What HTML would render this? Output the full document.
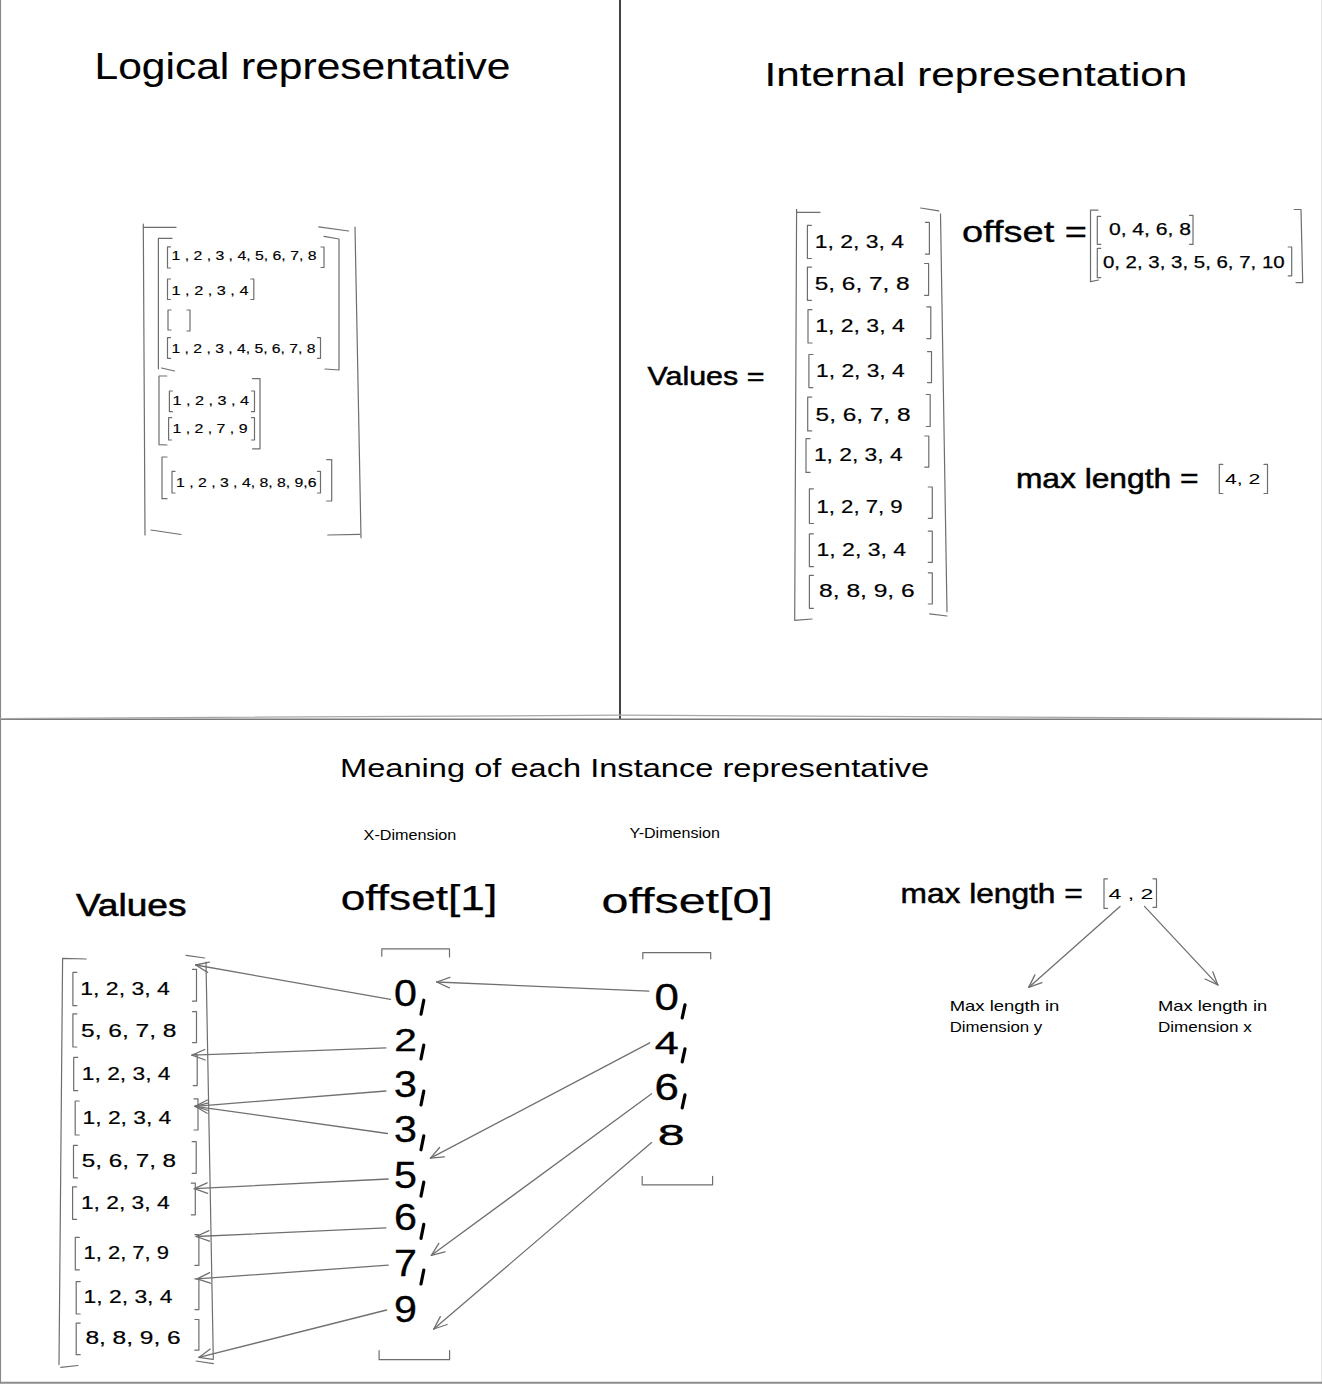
<!DOCTYPE html>
<html><head><meta charset="utf-8"><style>
html,body{margin:0;padding:0;background:#fff;width:1322px;height:1386px;overflow:hidden}
svg{display:block}
text{font-family:"Liberation Sans",sans-serif}
</style></head><body>
<svg width="1322" height="1386" viewBox="0 0 1322 1386">
<rect width="1322" height="1386" fill="#fff"/>
<path d="M0.5 0.0 L0.5 1383.0" stroke="#8a8a8a" stroke-width="1.2" fill="none" stroke-linecap="round" stroke-linejoin="round"/>
<path d="M1321.5 0.0 L1321.5 1383.0" stroke="#e6e6e6" stroke-width="1" fill="none" stroke-linecap="round" stroke-linejoin="round"/>
<path d="M620.0 0.0 L620.0 719.0" stroke="#444" stroke-width="2" fill="none" stroke-linecap="round" stroke-linejoin="round"/>
<path d="M0.0 719.3 L1322.0 719.3" stroke="#7a7a7a" stroke-width="1.6" fill="none" stroke-linecap="round" stroke-linejoin="round"/>
<path d="M0.0 718.6 L620.0 715.2" stroke="#a8a8a8" stroke-width="1.3" fill="none" stroke-linecap="round" stroke-linejoin="round"/>
<path d="M620.0 715.2 L1322.0 718.6" stroke="#a8a8a8" stroke-width="1.3" fill="none" stroke-linecap="round" stroke-linejoin="round"/>
<path d="M0.0 1382.7 L1322.0 1382.7" stroke="#8c8c8c" stroke-width="2" fill="none" stroke-linecap="round" stroke-linejoin="round"/>
<text x="94.5" y="79.0" font-size="37" font-weight="normal" fill="#000" textLength="416.0" lengthAdjust="spacingAndGlyphs" stroke="#000" stroke-width="0.1">Logical representative</text>
<path d="M176 227.4 L143.3 227.4" stroke="#6e6e6e" stroke-width="1.2" fill="none" stroke-linecap="round" stroke-linejoin="round"/>
<path d="M143.3 224 L145 535" stroke="#6e6e6e" stroke-width="1.2" fill="none" stroke-linecap="round" stroke-linejoin="round"/>
<path d="M151 530 L181 534.5" stroke="#6e6e6e" stroke-width="1.2" fill="none" stroke-linecap="round" stroke-linejoin="round"/>
<path d="M318.7 226.8 L348.6 231" stroke="#6e6e6e" stroke-width="1.2" fill="none" stroke-linecap="round" stroke-linejoin="round"/>
<path d="M355 227 L361 537.7" stroke="#6e6e6e" stroke-width="1.2" fill="none" stroke-linecap="round" stroke-linejoin="round"/>
<path d="M327.8 535 L360 534.3" stroke="#6e6e6e" stroke-width="1.2" fill="none" stroke-linecap="round" stroke-linejoin="round"/>
<path d="M172 238.4 L158.4 238.4 L158.4 368.8" stroke="#6e6e6e" stroke-width="1.2" fill="none" stroke-linecap="round" stroke-linejoin="round"/>
<path d="M161.5 368 L174.5 371" stroke="#6e6e6e" stroke-width="1.2" fill="none" stroke-linecap="round" stroke-linejoin="round"/>
<path d="M324 236.4 L339 239 L339 370 L325 369" stroke="#6e6e6e" stroke-width="1.2" fill="none" stroke-linecap="round" stroke-linejoin="round"/>
<path d="M166.8 376 L159 376 L159 444.7 L167 445" stroke="#6e6e6e" stroke-width="1.2" fill="none" stroke-linecap="round" stroke-linejoin="round"/>
<path d="M252.5 378.7 L260 378.7 L260 448.8 L252.5 448.8" stroke="#6e6e6e" stroke-width="1.2" fill="none" stroke-linecap="round" stroke-linejoin="round"/>
<path d="M167.0 457.0 L162.0 457.0 L162.0 498.7 L167.0 498.7" stroke="#6e6e6e" stroke-width="1.2" fill="none" stroke-linecap="round" stroke-linejoin="round"/>
<path d="M326.7 459.7 L331.7 459.7 L331.7 501.0 L326.7 501.0" stroke="#6e6e6e" stroke-width="1.2" fill="none" stroke-linecap="round" stroke-linejoin="round"/>
<path d="M170.5 246.8 L167.5 246.8 L167.5 268.0 L170.5 268.0" stroke="#6e6e6e" stroke-width="1.2" fill="none" stroke-linecap="round" stroke-linejoin="round"/>
<path d="M321.0 247.0 L324.0 247.0 L324.0 267.5 L321.0 267.5" stroke="#6e6e6e" stroke-width="1.2" fill="none" stroke-linecap="round" stroke-linejoin="round"/>
<text x="171.5" y="260.3" font-size="12.5" font-weight="normal" fill="#000" textLength="145.0" lengthAdjust="spacingAndGlyphs" stroke="#000" stroke-width="0.15">1 , 2 , 3 , 4, 5, 6, 7, 8</text>
<path d="M170.5 279.0 L167.5 279.0 L167.5 299.5 L170.5 299.5" stroke="#6e6e6e" stroke-width="1.2" fill="none" stroke-linecap="round" stroke-linejoin="round"/>
<path d="M250.8 279.0 L253.8 279.0 L253.8 299.5 L250.8 299.5" stroke="#6e6e6e" stroke-width="1.2" fill="none" stroke-linecap="round" stroke-linejoin="round"/>
<text x="171.5" y="294.8" font-size="12.5" font-weight="normal" fill="#000" textLength="77.0" lengthAdjust="spacingAndGlyphs" stroke="#000" stroke-width="0.15">1 , 2 , 3 , 4</text>
<path d="M171.0 310.0 L168.0 310.0 L168.0 330.0 L171.0 330.0" stroke="#6e6e6e" stroke-width="1.2" fill="none" stroke-linecap="round" stroke-linejoin="round"/>
<path d="M187.0 310.0 L190.0 310.0 L190.0 331.0 L187.0 331.0" stroke="#6e6e6e" stroke-width="1.2" fill="none" stroke-linecap="round" stroke-linejoin="round"/>
<path d="M170.5 337.7 L167.5 337.7 L167.5 358.4 L170.5 358.4" stroke="#6e6e6e" stroke-width="1.2" fill="none" stroke-linecap="round" stroke-linejoin="round"/>
<path d="M317.5 337.7 L320.5 337.7 L320.5 358.4 L317.5 358.4" stroke="#6e6e6e" stroke-width="1.2" fill="none" stroke-linecap="round" stroke-linejoin="round"/>
<text x="171.5" y="353.0" font-size="12.5" font-weight="normal" fill="#000" textLength="144.0" lengthAdjust="spacingAndGlyphs" stroke="#000" stroke-width="0.15">1 , 2 , 3 , 4, 5, 6, 7, 8</text>
<path d="M172.4 391.0 L169.4 391.0 L169.4 411.7 L172.4 411.7" stroke="#6e6e6e" stroke-width="1.2" fill="none" stroke-linecap="round" stroke-linejoin="round"/>
<path d="M251.5 391.0 L254.5 391.0 L254.5 411.7 L251.5 411.7" stroke="#6e6e6e" stroke-width="1.2" fill="none" stroke-linecap="round" stroke-linejoin="round"/>
<text x="172.5" y="405.0" font-size="12.5" font-weight="normal" fill="#000" textLength="76.6" lengthAdjust="spacingAndGlyphs" stroke="#000" stroke-width="0.15">1 , 2 , 3 , 4</text>
<path d="M171.6 417.7 L168.6 417.7 L168.6 440.0 L171.6 440.0" stroke="#6e6e6e" stroke-width="1.2" fill="none" stroke-linecap="round" stroke-linejoin="round"/>
<path d="M251.5 417.7 L254.5 417.7 L254.5 440.0 L251.5 440.0" stroke="#6e6e6e" stroke-width="1.2" fill="none" stroke-linecap="round" stroke-linejoin="round"/>
<text x="172.5" y="433.0" font-size="12.5" font-weight="normal" fill="#000" textLength="75.0" lengthAdjust="spacingAndGlyphs" stroke="#000" stroke-width="0.15">1 , 2 , 7 , 9</text>
<path d="M175.0 471.4 L172.0 471.4 L172.0 493.0 L175.0 493.0" stroke="#6e6e6e" stroke-width="1.2" fill="none" stroke-linecap="round" stroke-linejoin="round"/>
<path d="M317.5 471.4 L320.5 471.4 L320.5 493.0 L317.5 493.0" stroke="#6e6e6e" stroke-width="1.2" fill="none" stroke-linecap="round" stroke-linejoin="round"/>
<text x="176.1" y="487.0" font-size="12.5" font-weight="normal" fill="#000" textLength="140.4" lengthAdjust="spacingAndGlyphs" stroke="#000" stroke-width="0.15">1 , 2 , 3 , 4, 8, 8, 9,6</text>
<text x="764.6" y="86.0" font-size="34" font-weight="normal" fill="#000" textLength="422.7" lengthAdjust="spacingAndGlyphs" stroke="#000" stroke-width="0.1">Internal representation</text>
<text x="647.5" y="385.0" font-size="25" font-weight="normal" fill="#000" textLength="116.9" lengthAdjust="spacingAndGlyphs" stroke="#000" stroke-width="0.5">Values =</text>
<path d="M820 212.3 L796.6 212.3" stroke="#6e6e6e" stroke-width="1.2" fill="none" stroke-linecap="round" stroke-linejoin="round"/>
<path d="M796.6 209.4 L794.7 619.5" stroke="#6e6e6e" stroke-width="1.2" fill="none" stroke-linecap="round" stroke-linejoin="round"/>
<path d="M794.7 620.4 L812 619" stroke="#6e6e6e" stroke-width="1.2" fill="none" stroke-linecap="round" stroke-linejoin="round"/>
<path d="M920.7 208 L938.8 210.9" stroke="#6e6e6e" stroke-width="1.2" fill="none" stroke-linecap="round" stroke-linejoin="round"/>
<path d="M940.5 213.8 L947 611.7" stroke="#6e6e6e" stroke-width="1.2" fill="none" stroke-linecap="round" stroke-linejoin="round"/>
<path d="M929.7 613.8 L947 616" stroke="#6e6e6e" stroke-width="1.2" fill="none" stroke-linecap="round" stroke-linejoin="round"/>
<path d="M811.4 225.3 L807.4 225.3 L807.4 258.5 L811.4 258.5" stroke="#6e6e6e" stroke-width="1.2" fill="none" stroke-linecap="round" stroke-linejoin="round"/>
<path d="M925.4 222.4 L929.4 222.4 L929.4 254.2 L925.4 254.2" stroke="#6e6e6e" stroke-width="1.2" fill="none" stroke-linecap="round" stroke-linejoin="round"/>
<text x="814.7" y="248.4" font-size="18" font-weight="normal" fill="#000" textLength="89.4" lengthAdjust="spacingAndGlyphs" stroke="#000" stroke-width="0.2">1, 2, 3, 4</text>
<path d="M811.4 267.2 L807.4 267.2 L807.4 300.3 L811.4 300.3" stroke="#6e6e6e" stroke-width="1.2" fill="none" stroke-linecap="round" stroke-linejoin="round"/>
<path d="M924.6 263.5 L928.6 263.5 L928.6 295.3 L924.6 295.3" stroke="#6e6e6e" stroke-width="1.2" fill="none" stroke-linecap="round" stroke-linejoin="round"/>
<text x="814.7" y="289.5" font-size="18" font-weight="normal" fill="#000" textLength="95.0" lengthAdjust="spacingAndGlyphs" stroke="#000" stroke-width="0.2">5, 6, 7, 8</text>
<path d="M812.0 309.7 L808.0 309.7 L808.0 343.0 L812.0 343.0" stroke="#6e6e6e" stroke-width="1.2" fill="none" stroke-linecap="round" stroke-linejoin="round"/>
<path d="M926.8 306.8 L930.8 306.8 L930.8 338.6 L926.8 338.6" stroke="#6e6e6e" stroke-width="1.2" fill="none" stroke-linecap="round" stroke-linejoin="round"/>
<text x="815.3" y="332.0" font-size="18" font-weight="normal" fill="#000" textLength="89.4" lengthAdjust="spacingAndGlyphs" stroke="#000" stroke-width="0.2">1, 2, 3, 4</text>
<path d="M812.9 354.5 L808.9 354.5 L808.9 387.6 L812.9 387.6" stroke="#6e6e6e" stroke-width="1.2" fill="none" stroke-linecap="round" stroke-linejoin="round"/>
<path d="M927.5 351.6 L931.5 351.6 L931.5 382.6 L927.5 382.6" stroke="#6e6e6e" stroke-width="1.2" fill="none" stroke-linecap="round" stroke-linejoin="round"/>
<text x="816.1" y="376.8" font-size="18" font-weight="normal" fill="#000" textLength="88.6" lengthAdjust="spacingAndGlyphs" stroke="#000" stroke-width="0.2">1, 2, 3, 4</text>
<path d="M811.7 397.1 L807.7 397.1 L807.7 430.9 L811.7 430.9" stroke="#6e6e6e" stroke-width="1.2" fill="none" stroke-linecap="round" stroke-linejoin="round"/>
<path d="M926.2 394.5 L930.2 394.5 L930.2 426.5 L926.2 426.5" stroke="#6e6e6e" stroke-width="1.2" fill="none" stroke-linecap="round" stroke-linejoin="round"/>
<text x="815.6" y="420.5" font-size="18" font-weight="normal" fill="#000" textLength="94.9" lengthAdjust="spacingAndGlyphs" stroke="#000" stroke-width="0.2">5, 6, 7, 8</text>
<path d="M810.0 438.7 L806.0 438.7 L806.0 472.4 L810.0 472.4" stroke="#6e6e6e" stroke-width="1.2" fill="none" stroke-linecap="round" stroke-linejoin="round"/>
<path d="M924.8 436.0 L928.8 436.0 L928.8 467.2 L924.8 467.2" stroke="#6e6e6e" stroke-width="1.2" fill="none" stroke-linecap="round" stroke-linejoin="round"/>
<text x="813.9" y="461.2" font-size="18" font-weight="normal" fill="#000" textLength="88.8" lengthAdjust="spacingAndGlyphs" stroke="#000" stroke-width="0.2">1, 2, 3, 4</text>
<path d="M813.4 488.8 L809.4 488.8 L809.4 523.5 L813.4 523.5" stroke="#6e6e6e" stroke-width="1.2" fill="none" stroke-linecap="round" stroke-linejoin="round"/>
<path d="M928.3 487.0 L932.3 487.0 L932.3 518.3 L928.3 518.3" stroke="#6e6e6e" stroke-width="1.2" fill="none" stroke-linecap="round" stroke-linejoin="round"/>
<text x="816.5" y="513.0" font-size="18" font-weight="normal" fill="#000" textLength="86.2" lengthAdjust="spacingAndGlyphs" stroke="#000" stroke-width="0.2">1, 2, 7, 9</text>
<path d="M813.4 533.8 L809.4 533.8 L809.4 566.7 L813.4 566.7" stroke="#6e6e6e" stroke-width="1.2" fill="none" stroke-linecap="round" stroke-linejoin="round"/>
<path d="M928.3 531.2 L932.3 531.2 L932.3 562.4 L928.3 562.4" stroke="#6e6e6e" stroke-width="1.2" fill="none" stroke-linecap="round" stroke-linejoin="round"/>
<text x="816.5" y="556.3" font-size="18" font-weight="normal" fill="#000" textLength="89.7" lengthAdjust="spacingAndGlyphs" stroke="#000" stroke-width="0.2">1, 2, 3, 4</text>
<path d="M813.4 575.4 L809.4 575.4 L809.4 608.3 L813.4 608.3" stroke="#6e6e6e" stroke-width="1.2" fill="none" stroke-linecap="round" stroke-linejoin="round"/>
<path d="M928.3 572.8 L932.3 572.8 L932.3 604.0 L928.3 604.0" stroke="#6e6e6e" stroke-width="1.2" fill="none" stroke-linecap="round" stroke-linejoin="round"/>
<text x="819.1" y="597.0" font-size="18" font-weight="normal" fill="#000" textLength="95.6" lengthAdjust="spacingAndGlyphs" stroke="#000" stroke-width="0.2">8, 8, 9, 6</text>
<text x="962.0" y="241.5" font-size="30" font-weight="normal" fill="#000" textLength="124.9" lengthAdjust="spacingAndGlyphs" stroke="#000" stroke-width="0.35">offset =</text>
<path d="M1098 210.2 L1090.5 210.2 L1090.5 281.7 L1098.6 280" stroke="#6e6e6e" stroke-width="1.2" fill="none" stroke-linecap="round" stroke-linejoin="round"/>
<path d="M1100.8 216.3 L1097.3 216.3 L1097.3 244.3 L1100.8 244.3" stroke="#6e6e6e" stroke-width="1.2" fill="none" stroke-linecap="round" stroke-linejoin="round"/>
<path d="M1100.8 248.3 L1097.3 248.3 L1097.3 277.6 L1100.8 277.6" stroke="#6e6e6e" stroke-width="1.2" fill="none" stroke-linecap="round" stroke-linejoin="round"/>
<path d="M1189.5 215.4 L1193.0 215.4 L1193.0 244.4 L1189.5 244.4" stroke="#6e6e6e" stroke-width="1.2" fill="none" stroke-linecap="round" stroke-linejoin="round"/>
<path d="M1288.2 247.0 L1291.7 247.0 L1291.7 275.8 L1288.2 275.8" stroke="#6e6e6e" stroke-width="1.2" fill="none" stroke-linecap="round" stroke-linejoin="round"/>
<path d="M1294.2 209.5 L1301 209.5 L1302.7 282.6 L1296 282.6" stroke="#6e6e6e" stroke-width="1.2" fill="none" stroke-linecap="round" stroke-linejoin="round"/>
<text x="1108.9" y="235.0" font-size="17" font-weight="normal" fill="#000" textLength="82.2" lengthAdjust="spacingAndGlyphs" stroke="#000" stroke-width="0.25">0, 4, 6, 8</text>
<text x="1102.9" y="268.2" font-size="17" font-weight="normal" fill="#000" textLength="181.8" lengthAdjust="spacingAndGlyphs" stroke="#000" stroke-width="0.25">0, 2, 3, 3, 5, 6, 7, 10</text>
<text x="1015.9" y="488.3" font-size="28" font-weight="normal" fill="#000" textLength="182.6" lengthAdjust="spacingAndGlyphs" stroke="#000" stroke-width="0.5">max length =</text>
<path d="M1222.8 464.4 L1219.3 464.4 L1219.3 493.5 L1222.8 493.5" stroke="#6e6e6e" stroke-width="1.2" fill="none" stroke-linecap="round" stroke-linejoin="round"/>
<path d="M1264.0 464.4 L1267.5 464.4 L1267.5 493.5 L1264.0 493.5" stroke="#6e6e6e" stroke-width="1.2" fill="none" stroke-linecap="round" stroke-linejoin="round"/>
<text x="1224.9" y="484.0" font-size="15" font-weight="normal" fill="#000" textLength="35.5" lengthAdjust="spacingAndGlyphs">4, 2</text>
<text x="340.0" y="777.0" font-size="26" font-weight="normal" fill="#000" textLength="589.1" lengthAdjust="spacingAndGlyphs">Meaning of each Instance representative</text>
<text x="363.6" y="840.4" font-size="15" font-weight="normal" fill="#000" textLength="92.7" lengthAdjust="spacingAndGlyphs">X-Dimension</text>
<text x="629.4" y="837.9" font-size="15" font-weight="normal" fill="#000" textLength="90.6" lengthAdjust="spacingAndGlyphs">Y-Dimension</text>
<text x="75.9" y="916.0" font-size="32" font-weight="normal" fill="#000" textLength="110.6" lengthAdjust="spacingAndGlyphs" stroke="#000" stroke-width="0.6">Values</text>
<text x="340.7" y="909.9" font-size="35" font-weight="normal" fill="#000" textLength="156.5" lengthAdjust="spacingAndGlyphs" stroke="#000" stroke-width="0.25">offset[1]</text>
<text x="601.5" y="913.1" font-size="35" font-weight="normal" fill="#000" textLength="171.4" lengthAdjust="spacingAndGlyphs" stroke="#000" stroke-width="0.25">offset[0]</text>
<text x="900.5" y="903.1" font-size="28" font-weight="normal" fill="#000" textLength="182.3" lengthAdjust="spacingAndGlyphs" stroke="#000" stroke-width="0.5">max length =</text>
<path d="M1107.5 878.8 L1104.0 878.8 L1104.0 908.4 L1107.5 908.4" stroke="#6e6e6e" stroke-width="1.2" fill="none" stroke-linecap="round" stroke-linejoin="round"/>
<path d="M1153.0 878.8 L1156.5 878.8 L1156.5 907.4 L1153.0 907.4" stroke="#6e6e6e" stroke-width="1.2" fill="none" stroke-linecap="round" stroke-linejoin="round"/>
<text x="1108.4" y="898.9" font-size="15" font-weight="normal" fill="#000" textLength="44.9" lengthAdjust="spacingAndGlyphs">4 , 2</text>
<path d="M1120.0 906.4 L1028.7 987.4" stroke="#707070" stroke-width="1.3" fill="none" stroke-linecap="round" stroke-linejoin="round"/>
<path d="M1028.7 987.4 L1034.9 974.9" stroke="#707070" stroke-width="1.3" fill="none" stroke-linecap="round" stroke-linejoin="round"/>
<path d="M1028.7 987.4 L1041.9 982.7" stroke="#707070" stroke-width="1.3" fill="none" stroke-linecap="round" stroke-linejoin="round"/>
<path d="M1144.5 906.4 L1217.8 984.9" stroke="#707070" stroke-width="1.3" fill="none" stroke-linecap="round" stroke-linejoin="round"/>
<path d="M1217.8 984.9 L1205.1 979.0" stroke="#707070" stroke-width="1.3" fill="none" stroke-linecap="round" stroke-linejoin="round"/>
<path d="M1217.8 984.9 L1212.8 971.8" stroke="#707070" stroke-width="1.3" fill="none" stroke-linecap="round" stroke-linejoin="round"/>
<text x="949.7" y="1010.6" font-size="15" font-weight="normal" fill="#000" textLength="109.7" lengthAdjust="spacingAndGlyphs">Max length in</text>
<text x="949.7" y="1031.7" font-size="15" font-weight="normal" fill="#000" textLength="92.5" lengthAdjust="spacingAndGlyphs">Dimension y</text>
<text x="1158.0" y="1010.6" font-size="15" font-weight="normal" fill="#000" textLength="109.2" lengthAdjust="spacingAndGlyphs">Max length in</text>
<text x="1158.0" y="1031.7" font-size="15" font-weight="normal" fill="#000" textLength="93.8" lengthAdjust="spacingAndGlyphs">Dimension x</text>
<path d="M86.2 959 L62.6 958.3 L59 1364.6" stroke="#6e6e6e" stroke-width="1.2" fill="none" stroke-linecap="round" stroke-linejoin="round"/>
<path d="M60.8 1367.3 L78 1365.5" stroke="#6e6e6e" stroke-width="1.2" fill="none" stroke-linecap="round" stroke-linejoin="round"/>
<path d="M186.1 955.4 L204.6 958" stroke="#6e6e6e" stroke-width="1.2" fill="none" stroke-linecap="round" stroke-linejoin="round"/>
<path d="M206 962 L213.3 1359.2" stroke="#6e6e6e" stroke-width="1.2" fill="none" stroke-linecap="round" stroke-linejoin="round"/>
<path d="M196.2 1361 L213.3 1363.7" stroke="#6e6e6e" stroke-width="1.2" fill="none" stroke-linecap="round" stroke-linejoin="round"/>
<path d="M76.9 972.4 L72.9 972.4 L72.9 1005.7 L76.9 1005.7" stroke="#6e6e6e" stroke-width="1.2" fill="none" stroke-linecap="round" stroke-linejoin="round"/>
<path d="M192.5 969.4 L196.5 969.4 L196.5 1001.2 L192.5 1001.2" stroke="#6e6e6e" stroke-width="1.2" fill="none" stroke-linecap="round" stroke-linejoin="round"/>
<text x="80.3" y="995.3" font-size="18" font-weight="normal" fill="#000" textLength="89.5" lengthAdjust="spacingAndGlyphs" stroke="#000" stroke-width="0.2">1, 2, 3, 4</text>
<path d="M76.9 1013.8 L72.9 1013.8 L72.9 1047.0 L76.9 1047.0" stroke="#6e6e6e" stroke-width="1.2" fill="none" stroke-linecap="round" stroke-linejoin="round"/>
<path d="M192.5 1011.6 L196.5 1011.6 L196.5 1042.6 L192.5 1042.6" stroke="#6e6e6e" stroke-width="1.2" fill="none" stroke-linecap="round" stroke-linejoin="round"/>
<text x="81.1" y="1036.7" font-size="18" font-weight="normal" fill="#000" textLength="95.4" lengthAdjust="spacingAndGlyphs" stroke="#000" stroke-width="0.2">5, 6, 7, 8</text>
<path d="M77.7 1057.4 L73.7 1057.4 L73.7 1090.7 L77.7 1090.7" stroke="#6e6e6e" stroke-width="1.2" fill="none" stroke-linecap="round" stroke-linejoin="round"/>
<path d="M193.2 1054.5 L197.2 1054.5 L197.2 1085.6 L193.2 1085.6" stroke="#6e6e6e" stroke-width="1.2" fill="none" stroke-linecap="round" stroke-linejoin="round"/>
<text x="81.8" y="1079.6" font-size="18" font-weight="normal" fill="#000" textLength="88.7" lengthAdjust="spacingAndGlyphs" stroke="#000" stroke-width="0.2">1, 2, 3, 4</text>
<path d="M79.2 1101.0 L75.2 1101.0 L75.2 1135.0 L79.2 1135.0" stroke="#6e6e6e" stroke-width="1.2" fill="none" stroke-linecap="round" stroke-linejoin="round"/>
<path d="M194.0 1098.9 L198.0 1098.9 L198.0 1130.0 L194.0 1130.0" stroke="#6e6e6e" stroke-width="1.2" fill="none" stroke-linecap="round" stroke-linejoin="round"/>
<text x="82.6" y="1124.0" font-size="18" font-weight="normal" fill="#000" textLength="88.7" lengthAdjust="spacingAndGlyphs" stroke="#000" stroke-width="0.2">1, 2, 3, 4</text>
<path d="M77.5 1145.3 L73.5 1145.3 L73.5 1177.8 L77.5 1177.8" stroke="#6e6e6e" stroke-width="1.2" fill="none" stroke-linecap="round" stroke-linejoin="round"/>
<path d="M192.2 1141.7 L196.2 1141.7 L196.2 1173.3 L192.2 1173.3" stroke="#6e6e6e" stroke-width="1.2" fill="none" stroke-linecap="round" stroke-linejoin="round"/>
<text x="81.8" y="1167.0" font-size="18" font-weight="normal" fill="#000" textLength="94.3" lengthAdjust="spacingAndGlyphs" stroke="#000" stroke-width="0.2">5, 6, 7, 8</text>
<path d="M76.6 1186.8 L72.6 1186.8 L72.6 1219.3 L76.6 1219.3" stroke="#6e6e6e" stroke-width="1.2" fill="none" stroke-linecap="round" stroke-linejoin="round"/>
<path d="M191.3 1183.2 L195.3 1183.2 L195.3 1214.8 L191.3 1214.8" stroke="#6e6e6e" stroke-width="1.2" fill="none" stroke-linecap="round" stroke-linejoin="round"/>
<text x="80.9" y="1208.5" font-size="18" font-weight="normal" fill="#000" textLength="88.8" lengthAdjust="spacingAndGlyphs" stroke="#000" stroke-width="0.2">1, 2, 3, 4</text>
<path d="M79.3 1237.4 L75.3 1237.4 L75.3 1269.9 L79.3 1269.9" stroke="#6e6e6e" stroke-width="1.2" fill="none" stroke-linecap="round" stroke-linejoin="round"/>
<path d="M194.9 1234.7 L198.9 1234.7 L198.9 1265.4 L194.9 1265.4" stroke="#6e6e6e" stroke-width="1.2" fill="none" stroke-linecap="round" stroke-linejoin="round"/>
<text x="83.6" y="1259.0" font-size="18" font-weight="normal" fill="#000" textLength="85.3" lengthAdjust="spacingAndGlyphs" stroke="#000" stroke-width="0.2">1, 2, 7, 9</text>
<path d="M80.2 1281.6 L76.2 1281.6 L76.2 1314.0 L80.2 1314.0" stroke="#6e6e6e" stroke-width="1.2" fill="none" stroke-linecap="round" stroke-linejoin="round"/>
<path d="M194.9 1278.9 L198.9 1278.9 L198.9 1309.6 L194.9 1309.6" stroke="#6e6e6e" stroke-width="1.2" fill="none" stroke-linecap="round" stroke-linejoin="round"/>
<text x="83.6" y="1303.3" font-size="18" font-weight="normal" fill="#000" textLength="88.9" lengthAdjust="spacingAndGlyphs" stroke="#000" stroke-width="0.2">1, 2, 3, 4</text>
<path d="M80.2 1323.1 L76.2 1323.1 L76.2 1354.7 L80.2 1354.7" stroke="#6e6e6e" stroke-width="1.2" fill="none" stroke-linecap="round" stroke-linejoin="round"/>
<path d="M194.9 1319.5 L198.9 1319.5 L198.9 1350.2 L194.9 1350.2" stroke="#6e6e6e" stroke-width="1.2" fill="none" stroke-linecap="round" stroke-linejoin="round"/>
<text x="85.4" y="1343.9" font-size="18" font-weight="normal" fill="#000" textLength="95.3" lengthAdjust="spacingAndGlyphs" stroke="#000" stroke-width="0.2">8, 8, 9, 6</text>
<path d="M381.8 956.2 L381.8 948.9 L449.5 948.9 L449.5 957" stroke="#6e6e6e" stroke-width="1.2" fill="none" stroke-linecap="round" stroke-linejoin="round"/>
<path d="M379.1 1350.6 L379.1 1359.7 L449.6 1359.7 L449.6 1350.6" stroke="#6e6e6e" stroke-width="1.2" fill="none" stroke-linecap="round" stroke-linejoin="round"/>
<text x="394.1" y="1006.2" font-size="36" font-weight="normal" fill="#000" textLength="22.9" lengthAdjust="spacingAndGlyphs" stroke="#000" stroke-width="0.35">0</text>
<path d="M423.8 1000.2 L421 1014.2" stroke="#000" stroke-width="3.2" fill="none" stroke-linecap="round" stroke-linejoin="round"/>
<text x="394.2" y="1051.0" font-size="32" font-weight="normal" fill="#000" textLength="22.6" lengthAdjust="spacingAndGlyphs" stroke="#000" stroke-width="0.35">2</text>
<path d="M423.8 1045.0 L421 1059.0" stroke="#000" stroke-width="3.2" fill="none" stroke-linecap="round" stroke-linejoin="round"/>
<text x="394.1" y="1097.0" font-size="36" font-weight="normal" fill="#000" textLength="22.9" lengthAdjust="spacingAndGlyphs" stroke="#000" stroke-width="0.35">3</text>
<path d="M423.8 1091.0 L421 1105.0" stroke="#000" stroke-width="3.2" fill="none" stroke-linecap="round" stroke-linejoin="round"/>
<text x="394.1" y="1141.8" font-size="36" font-weight="normal" fill="#000" textLength="22.9" lengthAdjust="spacingAndGlyphs" stroke="#000" stroke-width="0.35">3</text>
<path d="M423.8 1135.8 L421 1149.8" stroke="#000" stroke-width="3.2" fill="none" stroke-linecap="round" stroke-linejoin="round"/>
<text x="394.1" y="1188.1" font-size="36" font-weight="normal" fill="#000" textLength="22.9" lengthAdjust="spacingAndGlyphs" stroke="#000" stroke-width="0.35">5</text>
<path d="M423.8 1182.1 L421 1196.1" stroke="#000" stroke-width="3.2" fill="none" stroke-linecap="round" stroke-linejoin="round"/>
<text x="394.1" y="1230.4" font-size="36" font-weight="normal" fill="#000" textLength="22.9" lengthAdjust="spacingAndGlyphs" stroke="#000" stroke-width="0.35">6</text>
<path d="M423.8 1224.4 L421 1238.4" stroke="#000" stroke-width="3.2" fill="none" stroke-linecap="round" stroke-linejoin="round"/>
<text x="394.1" y="1276.0" font-size="36" font-weight="normal" fill="#000" textLength="22.9" lengthAdjust="spacingAndGlyphs" stroke="#000" stroke-width="0.35">7</text>
<path d="M423.8 1270.0 L421 1284.0" stroke="#000" stroke-width="3.2" fill="none" stroke-linecap="round" stroke-linejoin="round"/>
<text x="394.1" y="1321.6" font-size="36" font-weight="normal" fill="#000" textLength="22.9" lengthAdjust="spacingAndGlyphs" stroke="#000" stroke-width="0.35">9</text>
<path d="M642.8 958.8 L642.8 952.6 L710.7 952.6 L710.7 958.8" stroke="#6e6e6e" stroke-width="1.2" fill="none" stroke-linecap="round" stroke-linejoin="round"/>
<path d="M642.2 1176.4 L642.2 1184.8 L712.6 1184.8 L712.6 1176.4" stroke="#6e6e6e" stroke-width="1.2" fill="none" stroke-linecap="round" stroke-linejoin="round"/>
<text x="654.6" y="1010.4" font-size="36" font-weight="normal" fill="#000" textLength="24.4" lengthAdjust="spacingAndGlyphs" stroke="#000" stroke-width="0.35">0</text>
<path d="M685 1004.9 L682.2 1017.9" stroke="#000" stroke-width="3.2" fill="none" stroke-linecap="round" stroke-linejoin="round"/>
<text x="654.8" y="1054.4" font-size="31" font-weight="normal" fill="#000" textLength="24.0" lengthAdjust="spacingAndGlyphs" stroke="#000" stroke-width="0.35">4</text>
<path d="M685 1048.9 L682.2 1061.9" stroke="#000" stroke-width="3.2" fill="none" stroke-linecap="round" stroke-linejoin="round"/>
<text x="654.6" y="1100.4" font-size="36" font-weight="normal" fill="#000" textLength="24.4" lengthAdjust="spacingAndGlyphs" stroke="#000" stroke-width="0.35">6</text>
<path d="M685 1094.9 L682.2 1107.9" stroke="#000" stroke-width="3.2" fill="none" stroke-linecap="round" stroke-linejoin="round"/>
<text x="657.8" y="1145.4" font-size="30" font-weight="normal" fill="#000" textLength="26.9" lengthAdjust="spacingAndGlyphs" stroke="#000" stroke-width="0.35">8</text>
<path d="M648.8 991.2 L436.7 982.0" stroke="#707070" stroke-width="1.3" fill="none" stroke-linecap="round" stroke-linejoin="round"/>
<path d="M436.7 982.0 L449.9 977.3" stroke="#707070" stroke-width="1.3" fill="none" stroke-linecap="round" stroke-linejoin="round"/>
<path d="M436.7 982.0 L449.4 987.8" stroke="#707070" stroke-width="1.3" fill="none" stroke-linecap="round" stroke-linejoin="round"/>
<path d="M649.7 1042.8 L430.5 1158.2" stroke="#707070" stroke-width="1.3" fill="none" stroke-linecap="round" stroke-linejoin="round"/>
<path d="M430.5 1158.2 L439.5 1147.5" stroke="#707070" stroke-width="1.3" fill="none" stroke-linecap="round" stroke-linejoin="round"/>
<path d="M430.5 1158.2 L444.4 1156.8" stroke="#707070" stroke-width="1.3" fill="none" stroke-linecap="round" stroke-linejoin="round"/>
<path d="M651.6 1093.8 L431.4 1255.3" stroke="#707070" stroke-width="1.3" fill="none" stroke-linecap="round" stroke-linejoin="round"/>
<path d="M431.4 1255.3 L438.8 1243.4" stroke="#707070" stroke-width="1.3" fill="none" stroke-linecap="round" stroke-linejoin="round"/>
<path d="M431.4 1255.3 L445.0 1251.9" stroke="#707070" stroke-width="1.3" fill="none" stroke-linecap="round" stroke-linejoin="round"/>
<path d="M651.6 1142.6 L433.8 1329.0" stroke="#707070" stroke-width="1.3" fill="none" stroke-linecap="round" stroke-linejoin="round"/>
<path d="M433.8 1329.0 L440.3 1316.6" stroke="#707070" stroke-width="1.3" fill="none" stroke-linecap="round" stroke-linejoin="round"/>
<path d="M433.8 1329.0 L447.1 1324.5" stroke="#707070" stroke-width="1.3" fill="none" stroke-linecap="round" stroke-linejoin="round"/>
<path d="M390.5 999.4 L195.7 965.0" stroke="#707070" stroke-width="1.3" fill="none" stroke-linecap="round" stroke-linejoin="round"/>
<path d="M195.7 965.0 L209.4 962.1" stroke="#707070" stroke-width="1.3" fill="none" stroke-linecap="round" stroke-linejoin="round"/>
<path d="M195.7 965.0 L207.6 972.4" stroke="#707070" stroke-width="1.3" fill="none" stroke-linecap="round" stroke-linejoin="round"/>
<path d="M385.9 1047.9 L192.0 1055.2" stroke="#707070" stroke-width="1.3" fill="none" stroke-linecap="round" stroke-linejoin="round"/>
<path d="M192.0 1055.2 L204.8 1049.5" stroke="#707070" stroke-width="1.3" fill="none" stroke-linecap="round" stroke-linejoin="round"/>
<path d="M192.0 1055.2 L205.2 1060.0" stroke="#707070" stroke-width="1.3" fill="none" stroke-linecap="round" stroke-linejoin="round"/>
<path d="M385.9 1091.0 L195.0 1106.3" stroke="#707070" stroke-width="1.3" fill="none" stroke-linecap="round" stroke-linejoin="round"/>
<path d="M195.0 1106.3 L207.5 1100.0" stroke="#707070" stroke-width="1.3" fill="none" stroke-linecap="round" stroke-linejoin="round"/>
<path d="M195.0 1106.3 L208.4 1110.5" stroke="#707070" stroke-width="1.3" fill="none" stroke-linecap="round" stroke-linejoin="round"/>
<path d="M387.4 1133.5 L195.0 1106.3" stroke="#707070" stroke-width="1.3" fill="none" stroke-linecap="round" stroke-linejoin="round"/>
<path d="M195.0 1106.3 L208.6 1102.9" stroke="#707070" stroke-width="1.3" fill="none" stroke-linecap="round" stroke-linejoin="round"/>
<path d="M195.0 1106.3 L207.1 1113.3" stroke="#707070" stroke-width="1.3" fill="none" stroke-linecap="round" stroke-linejoin="round"/>
<path d="M388.2 1179.0 L194.4 1188.7" stroke="#707070" stroke-width="1.3" fill="none" stroke-linecap="round" stroke-linejoin="round"/>
<path d="M194.4 1188.7 L207.1 1182.8" stroke="#707070" stroke-width="1.3" fill="none" stroke-linecap="round" stroke-linejoin="round"/>
<path d="M194.4 1188.7 L207.6 1193.3" stroke="#707070" stroke-width="1.3" fill="none" stroke-linecap="round" stroke-linejoin="round"/>
<path d="M385.8 1227.9 L196.2 1236.5" stroke="#707070" stroke-width="1.3" fill="none" stroke-linecap="round" stroke-linejoin="round"/>
<path d="M196.2 1236.5 L208.9 1230.7" stroke="#707070" stroke-width="1.3" fill="none" stroke-linecap="round" stroke-linejoin="round"/>
<path d="M196.2 1236.5 L209.4 1241.2" stroke="#707070" stroke-width="1.3" fill="none" stroke-linecap="round" stroke-linejoin="round"/>
<path d="M388.2 1265.2 L197.1 1278.9" stroke="#707070" stroke-width="1.3" fill="none" stroke-linecap="round" stroke-linejoin="round"/>
<path d="M197.1 1278.9 L209.7 1272.7" stroke="#707070" stroke-width="1.3" fill="none" stroke-linecap="round" stroke-linejoin="round"/>
<path d="M197.1 1278.9 L210.4 1283.2" stroke="#707070" stroke-width="1.3" fill="none" stroke-linecap="round" stroke-linejoin="round"/>
<path d="M386.6 1310.0 L198.9 1357.4" stroke="#707070" stroke-width="1.3" fill="none" stroke-linecap="round" stroke-linejoin="round"/>
<path d="M198.9 1357.4 L210.2 1349.1" stroke="#707070" stroke-width="1.3" fill="none" stroke-linecap="round" stroke-linejoin="round"/>
<path d="M198.9 1357.4 L212.8 1359.3" stroke="#707070" stroke-width="1.3" fill="none" stroke-linecap="round" stroke-linejoin="round"/>
</svg>
</body></html>
